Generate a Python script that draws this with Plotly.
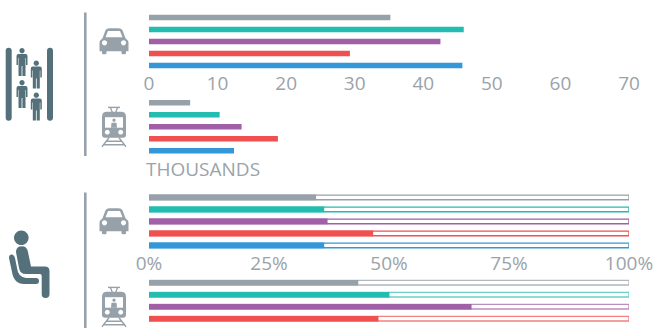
import plotly.graph_objects as go

W, H = 656, 328

# Bar colours, one per row, shared by all panels
row_colors = ["#97a1a9", "#23bcb0", "#a05fa7", "#f05050", "#3498d8"]
tram_outline = ["#b2b8bd", "#6cd0c8", "#bb8ec0", "#f57f7f"]

# Passengers, thousands
car_thousands = [35.2, 45.9, 42.5, 29.3, 45.7]
tram_thousands = [6.0, 10.3, 13.5, 18.8, 12.4]
thousands_ticks = [0, 10, 20, 30, 40, 50, 60, 70]

# Seat occupancy, percent
car_occupancy = [34.8, 36.5, 37.2, 46.7, 36.5]
tram_occupancy = [43.6, 50.1, 67.2, 47.8]
occupancy_ticks = [0, 25, 50, 75, 100]
occupancy_labels = ["0%", "25%", "50%", "75%", "100%"]

TEXT = "#9aa3a9"
ICON_GREY = "#97a1a9"
ICON_DARK = "#54707a"
FONT = "Open Sans"

LEFT, RIGHT = 149, 629
ROW_STEP = 12
BAR_WIDTH = 0.47


def ydomain(top, bottom):
    return [1 - bottom / H, 1 - top / H]


fig = go.Figure()


def panel(idx, first_row_y, values, xmax, colors, outline=None, visible_bottom=None):
    """One block of horizontal bars, placed by the y of its first row."""
    n = len(values)
    rows = list(range(n))
    top = first_row_y - ROW_STEP / 2
    bottom = first_row_y + (n - 0.5) * ROW_STEP
    ymax = n - 0.5
    if visible_bottom is not None and bottom > visible_bottom:
        ymax = (visible_bottom - top) / ROW_STEP - 0.5
        bottom = visible_bottom
    xname, yname = f"x{idx}", f"y{idx}"
    if outline is not None:
        fig.add_trace(go.Bar(
            x=[xmax] * n, y=rows, orientation="h", width=BAR_WIDTH - 0.09,
            marker=dict(color="#ffffff", line=dict(color=outline, width=1.4)),
            xaxis=xname, yaxis=yname, hoverinfo="skip",
        ))
    fig.add_trace(go.Bar(
        x=values, y=rows, orientation="h", width=BAR_WIDTH,
        marker=dict(color=colors[:n], line=dict(width=0)),
        xaxis=xname, yaxis=yname,
    ))
    fig.layout[f"xaxis{idx}"] = dict(
        domain=[LEFT / W, RIGHT / W], range=[0, xmax], anchor=yname,
        showgrid=False, zeroline=False, showline=False, showticklabels=False, ticks="",
        fixedrange=True,
    )
    fig.layout[f"yaxis{idx}"] = dict(
        domain=ydomain(top, bottom), range=[ymax, -0.5], anchor=xname,
        showgrid=False, zeroline=False, showline=False, showticklabels=False, ticks="",
        fixedrange=True,
    )


panel(1, 17.5, car_thousands, 70, row_colors)
panel(2, 102.7, tram_thousands, 70, row_colors)
panel(3, 197.4, car_occupancy, 100, row_colors, outline=row_colors)
panel(4, 282.7, tram_occupancy, 100, row_colors, outline=tram_outline, visible_bottom=H)

tick_style = dict(
    showticklabels=True, ticks="", anchor="free",
    tickfont=dict(family=FONT, size=19, color=TEXT),
)
fig.layout.xaxis1.update(tickmode="array", tickvals=thousands_ticks,
                         position=1 - 70 / H, **tick_style)
fig.layout.xaxis3.update(tickmode="array", tickvals=occupancy_ticks,
                         ticktext=occupancy_labels, position=1 - 249.5 / H, **tick_style)

# Hidden axes in page pixels, used to place the pictograms and divider rules
fig.add_trace(go.Scatter(x=[0], y=[0], xaxis="x5", yaxis="y5", mode="markers",
                         marker=dict(opacity=0), hoverinfo="skip"))
fig.layout.xaxis5 = dict(domain=[0, 1], range=[0, W], visible=False, anchor="y5", fixedrange=True)
fig.layout.yaxis5 = dict(domain=[0, 1], range=[H, 0], visible=False, anchor="x5", fixedrange=True)

shapes = []


def add_path(path, color, line_width=0, line_color=None):
    shapes.append(dict(type="path", path=path, xref="x5", yref="y5",
                       fillcolor=color, layer="above",
                       line=dict(width=line_width, color=line_color or color)))


def circle(cx, cy, r):
    k = 0.5523 * r
    return (f"M{cx - r},{cy} C{cx - r},{cy - k} {cx - k},{cy - r} {cx},{cy - r} "
            f"C{cx + k},{cy - r} {cx + r},{cy - k} {cx + r},{cy} "
            f"C{cx + r},{cy + k} {cx + k},{cy + r} {cx},{cy + r} "
            f"C{cx - k},{cy + r} {cx - r},{cy + k} {cx - r},{cy} Z")


def capsule(x0, x1, y0, y1):
    r = (x1 - x0) / 2
    return (f"M{x0},{y0 + r} Q{x0},{y0} {x0 + r},{y0} Q{x1},{y0} {x1},{y0 + r} "
            f"L{x1},{y1 - r} Q{x1},{y1} {x0 + r},{y1} Q{x0},{y1} {x0},{y1 - r} Z")


def car(x, y):
    def p(dx, dy):
        return f"{x + dx},{y + dy}"
    outer = (f"M{p(6, 2)} Q{p(7, 0)} {p(10, 0)} L{p(19, 0)} Q{p(22, 0)} {p(23, 2)} L{p(26, 10)} "
             f"Q{p(29, 12)} {p(29, 15)} L{p(29, 23)} L{p(26.5, 23)} L{p(26.5, 25)} Q{p(26.5, 26)} {p(25, 26)} "
             f"L{p(23.5, 26)} Q{p(22, 26)} {p(22, 25)} L{p(22, 23)} L{p(7, 23)} L{p(7, 25)} Q{p(7, 26)} {p(5.5, 26)} "
             f"L{p(4, 26)} Q{p(2.5, 26)} {p(2.5, 25)} L{p(2.5, 23)} L{p(0, 23)} L{p(0, 15)} Q{p(0, 12)} {p(3, 10)} Z")
    add_path(outer, ICON_GREY)
    add_path(f"M{p(8.5, 2.7)} L{p(20.5, 2.7)} L{p(23, 9)} L{p(6, 9)} Z", "#ffffff")
    add_path(circle(x + 5, y + 14.5, 2.6), "#ffffff")
    add_path(circle(x + 24, y + 14.5, 2.6), "#ffffff")


def tram(x, y):
    def p(dx, dy):
        return f"{x + dx},{y + dy}"
    # pantograph
    add_path(f"M{p(6, 0)} L{p(18, 0)} L{p(18, 1.4)} L{p(6, 1.4)} Z", ICON_GREY)
    add_path(f"M{p(8.5, 1)} L{p(10.5, 6)} M{p(15.5, 1)} L{p(13.5, 6)}", "rgba(0,0,0,0)", 1.3, ICON_GREY)
    # body
    add_path(f"M{p(0, 10)} Q{p(0, 5)} {p(5, 5)} L{p(19, 5)} Q{p(24, 5)} {p(24, 10)} "
             f"L{p(24, 28)} Q{p(24, 31)} {p(21, 31)} L{p(3, 31)} Q{p(0, 31)} {p(0, 28)} Z", ICON_GREY)
    add_path(f"M{p(3, 10.5)} L{p(21, 10.5)} L{p(21, 21)} L{p(3, 21)} Z", "#ffffff")
    # driver in the window
    add_path(circle(x + 12, y + 13.5, 1.6), ICON_GREY)
    add_path(f"M{p(9, 21)} L{p(9.5, 16)} L{p(14.5, 16)} L{p(15, 21)} Z", ICON_GREY)
    add_path(circle(x + 5.3, y + 25.5, 2.4), "#ffffff")
    add_path(circle(x + 18.7, y + 25.5, 2.4), "#ffffff")
    # track
    add_path(f"M{p(7, 31)} L{p(0, 40)} M{p(17, 31)} L{p(24, 40)} "
             f"M{p(4.5, 34.5)} L{p(19.5, 34.5)} M{p(2, 38)} L{p(22, 38)}",
             "rgba(0,0,0,0)", 1.4, ICON_GREY)


def person(cx, top):
    def p(dx, dy):
        return f"{cx + dx},{top + dy}"
    add_path(circle(cx, top + 2.7, 2.6), ICON_DARK)
    add_path(f"M{p(-5.5, 8)} Q{p(-5.5, 6)} {p(-3.5, 6)} L{p(3.5, 6)} Q{p(5.5, 6)} {p(5.5, 8)} "
             f"L{p(5.5, 17)} L{p(4, 17)} L{p(4, 10)} L{p(3.5, 10)} L{p(3.5, 28)} L{p(0.4, 28)} L{p(0.4, 18)} "
             f"L{p(-0.4, 18)} L{p(-0.4, 28)} L{p(-3.5, 28)} L{p(-3.5, 10)} L{p(-4, 10)} L{p(-4, 17)} L{p(-5.5, 17)} Z",
             ICON_DARK)


car(99.5, 28.3)
car(99.5, 208.3)
tram(102, 106.7)
tram(102, 286.7)

# Standing passengers between two rails
add_path(capsule(5.7, 11.7, 47.7, 120.7), ICON_DARK)
add_path(capsule(47, 53, 47.7, 120.7), ICON_DARK)
for cx, top in [(22, 48), (36.3, 60.5), (22, 80), (36.3, 92.5)]:
    person(cx, top)

# Seated passenger
add_path(circle(21.3, 237.7, 7.3), ICON_DARK)
add_path("M16,252 Q16,246.3 22,246.3 Q27,246.3 28,252 L31,266.5 L45,266.5 Q49.5,266.5 49.5,271 "
         "L49.5,294 Q49.5,298 45.5,298 Q41.7,298 41.7,294 L41.7,276 Q41.7,274 40,274 L26,274 "
         "Q20,274 19,268 Z", ICON_DARK)
add_path("M9,258 Q9,254 12,254.5 Q14.5,255 15,258 L17,268 Q18,277 26,278 L36,278 Q39,278 39,281 "
         "Q39,284 36,284 L24,284 Q14,284 12,272 Z", ICON_DARK)

# Divider rules
for y0, y1 in [(12.5, 156), (192.5, 328)]:
    shapes.append(dict(type="line", x0=85.3, x1=85.3, y0=y0, y1=y1, xref="x5", yref="y5",
                       layer="above", line=dict(color=ICON_GREY, width=2.6)))

fig.update_layout(
    width=W, height=H, margin=dict(l=0, r=0, t=0, b=0, autoexpand=False),
    paper_bgcolor="#ffffff", plot_bgcolor="rgba(0,0,0,0)",
    barmode="overlay", showlegend=False, shapes=shapes,
    annotations=[dict(
        text="THOUSANDS", xref="x5", yref="y5", x=144, y=168.5,
        xanchor="left", yanchor="middle", showarrow=False,
        font=dict(family=FONT, size=19, color=TEXT),
    )],
)

fig.write_html("out.html", config=dict(displayModeBar=False))
